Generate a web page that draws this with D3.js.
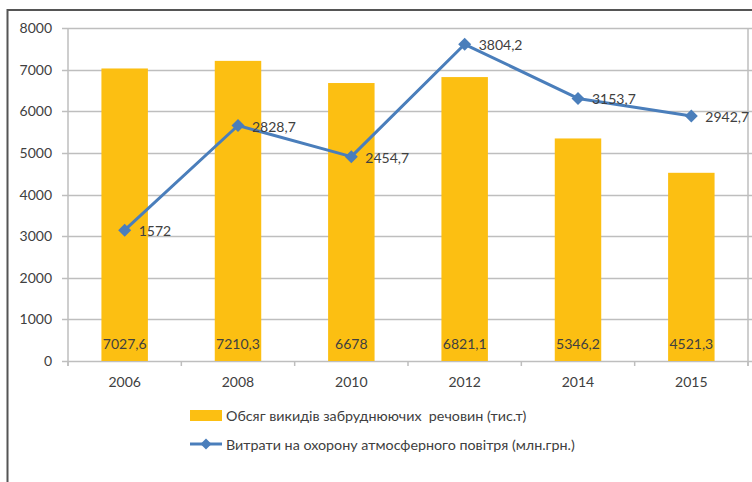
<!DOCTYPE html>
<html>
<head>
<meta charset="utf-8">
<script src="https://cdn.jsdelivr.net/npm/d3@7"></script>
<style>
  html, body { margin: 0; padding: 0; background: #fff; }
  svg { display: block; font-family: Lato, "Open Sans", sans-serif; }
</style>
</head>
<body>
<svg id="chart" width="752" height="482"></svg>
<script>
// Years on the category axis
const years = ["2006", "2008", "2010", "2012", "2014", "2015"];
// Emissions of pollutants, thousand tonnes (bars, left axis)
const emissions = [7027.6, 7210.3, 6678, 6821.1, 5346.2, 4521.3];
// Spending on air protection, million UAH (line, secondary axis)
const spending = [1572, 2828.7, 2454.7, 3804.2, 3153.7, 2942.7];
// Left axis tick values
const yTicks = [0, 1000, 2000, 3000, 4000, 5000, 6000, 7000, 8000];
// Legend entries
const legendLabels = [
  "Обсяг викидів забруднюючих  речовин (тис.т)",
  "Витрати на охорону атмосферного повітря (млн.грн.)"
];

const BAR = "#FCBF12";
const LINE = "#4A7EBB";
const GRID = "#BEBEBE";
const TEXT = "#404040";

const fmt = v => String(v).replace(".", ",");

const svg = d3.select("#chart");

// Chart frame
svg.append("rect")
  .attr("x", 7.5).attr("y", 10).attr("width", 900).attr("height", 600)
  .attr("fill", "none").attr("stroke", "#555").attr("stroke-width", 2);

const plot = { left: 68, right: 748, top: 28, bottom: 361 };

const x = d3.scaleBand().domain(years)
  .range([plot.left, plot.right])
  .paddingInner(0.59).paddingOuter(0.295);
const y = d3.scaleLinear().domain([0, 8000]).range([plot.bottom, plot.top]);
const y2 = d3.scaleLinear().domain([0, 4000]).range([plot.bottom, plot.top]);

// Horizontal gridlines with outer tick stubs on both sides
svg.append("g").selectAll("line").data(yTicks).join("line")
  .attr("x1", plot.left - 6).attr("x2", plot.right + 6)
  .attr("y1", d => Math.round(y(d)) + 0.5).attr("y2", d => Math.round(y(d)) + 0.5)
  .attr("stroke", GRID).attr("stroke-width", 1.5);

// Left and secondary (unlabelled) vertical axis lines
svg.append("line")
  .attr("x1", plot.left).attr("x2", plot.left)
  .attr("y1", y(8000)).attr("y2", y(0) + 5)
  .attr("stroke", GRID).attr("stroke-width", 1.5);
svg.append("line")
  .attr("x1", plot.right).attr("x2", plot.right)
  .attr("y1", y2(4000)).attr("y2", y2(0) + 5)
  .attr("stroke", GRID).attr("stroke-width", 1.5);

// Category tick marks at the band boundaries
const step = x.step();
const boundaries = d3.range(years.length + 1).map(i => plot.left + i * step);
svg.append("g").selectAll("line").data(boundaries).join("line")
  .attr("x1", d => d).attr("x2", d => d)
  .attr("y1", y(0)).attr("y2", y(0) + 5)
  .attr("stroke", GRID).attr("stroke-width", 1.5);

// Left axis labels
svg.append("g").selectAll("text").data(yTicks).join("text")
  .attr("x", 52).attr("y", d => y(d)).attr("dy", "0.36em")
  .attr("text-anchor", "end").attr("font-size", 14).attr("fill", TEXT)
  .text(d => d);

// Year labels
svg.append("g").selectAll("text").data(years).join("text")
  .attr("x", d => x(d) + x.bandwidth() / 2).attr("y", y(0) + 21).attr("dy", "0.36em")
  .attr("text-anchor", "middle").attr("font-size", 14).attr("fill", TEXT)
  .text(d => d);

// Bars
svg.append("g").selectAll("rect").data(emissions).join("rect")
  .attr("x", (d, i) => x(years[i])).attr("width", x.bandwidth())
  .attr("y", d => y(d)).attr("height", d => y(0) - y(d))
  .attr("fill", BAR);

// Bar value labels, inside the bar base
svg.append("g").selectAll("text").data(emissions).join("text")
  .attr("x", (d, i) => x(years[i]) + x.bandwidth() / 2).attr("y", y(0) - 17).attr("dy", "0.36em")
  .attr("text-anchor", "middle").attr("font-size", 14).attr("fill", TEXT)
  .text(d => fmt(d));

// Spending line on the secondary scale
const cx = i => x(years[i]) + x.bandwidth() / 2;
const line = d3.line().x((d, i) => cx(i)).y(d => y2(d));
svg.append("path").datum(spending)
  .attr("d", line).attr("fill", "none")
  .attr("stroke", LINE).attr("stroke-width", 3).attr("stroke-linejoin", "round");

const diamond = r => `M0,${-r}L${r},0L0,${r}L${-r},0Z`;
svg.append("g").selectAll("path").data(spending).join("path")
  .attr("transform", (d, i) => `translate(${cx(i)},${y2(d)})`)
  .attr("d", diamond(6.5)).attr("fill", LINE);

// Line value labels to the right of each marker
svg.append("g").selectAll("text").data(spending).join("text")
  .attr("x", (d, i) => cx(i) + 14).attr("y", d => y2(d) + 1).attr("dy", "0.36em")
  .attr("font-size", 14).attr("fill", TEXT)
  .text(d => fmt(d));

// Legend
const lg = svg.append("g");
lg.append("rect").attr("x", 190).attr("y", 410).attr("width", 32).attr("height", 11).attr("fill", BAR);
lg.append("line").attr("x1", 190).attr("x2", 222).attr("y1", 444).attr("y2", 444)
  .attr("stroke", LINE).attr("stroke-width", 3);
lg.append("path").attr("transform", "translate(206,444)").attr("d", diamond(5.5)).attr("fill", LINE);
lg.selectAll("text").data(legendLabels).join("text")
  .attr("x", 226).attr("y", (d, i) => 416 + i * 28.5).attr("dy", "0.36em")
  .attr("font-size", 14.3).attr("fill", TEXT)
  .style("white-space", "pre")
  .text(d => d);
</script>
</body>
</html>
